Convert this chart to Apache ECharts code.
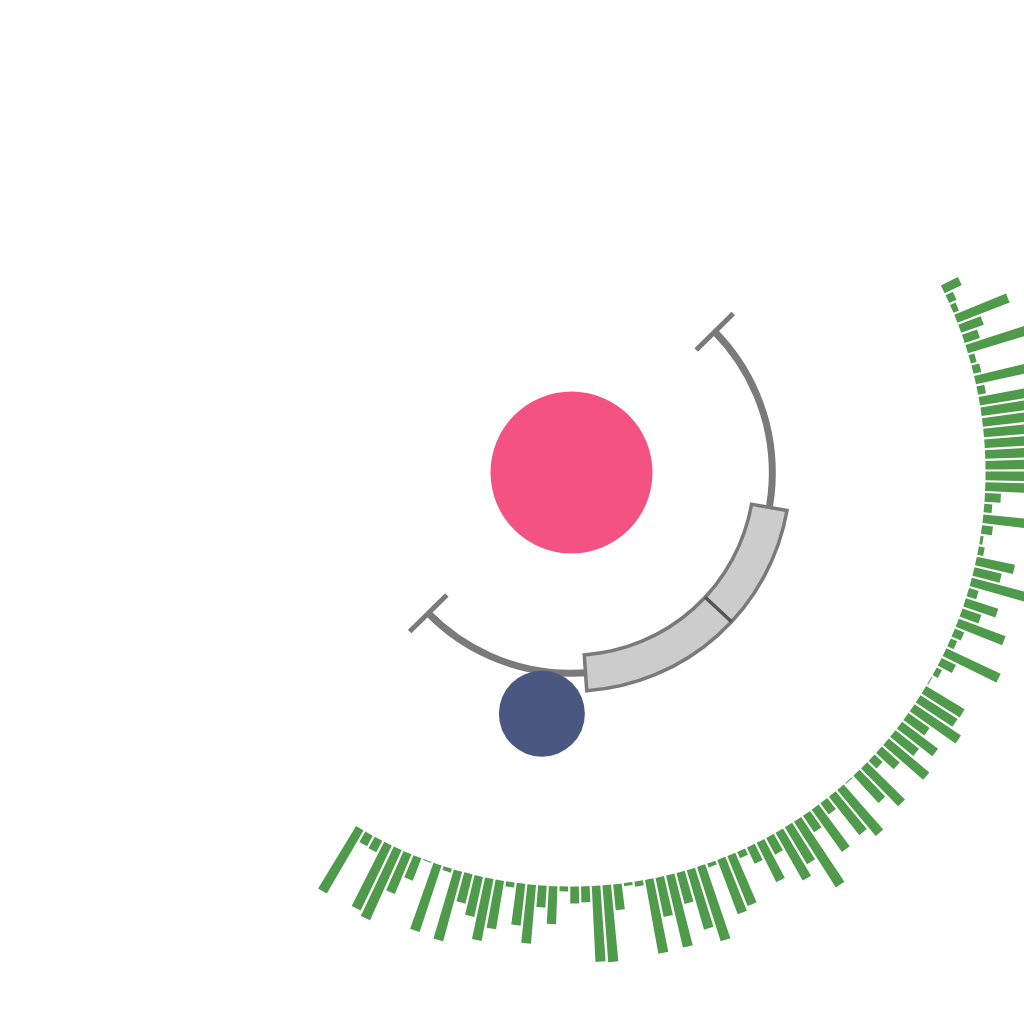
<!DOCTYPE html>
<html>
<head>
    <meta charset="utf-8">
    <title>polar box ring</title>
    <style>
        * { margin: 0; padding: 0; }
        html, body { width: 100%; height: 100%; background: #fff; }
        #main { width: 1024px; height: 1024px; }
    </style>
</head>
<body>
<div id="main"></div>
<script src="https://cdn.jsdelivr.net/npm/echarts@6/dist/echarts.min.js"></script>
<script>
    // outer ring, one bar per slot, clockwise from the top right
    const ringValues = [
        19, 8, 6, 56, 24, 16, 66, 6, 8, 62,
        8, 58, 44, 64, 70, 62, 72, 66, 60, 68,
        16, 8, 52, 11, 3, 6, 39, 28, 62, 10,
        34, 20, 50, 10, 7, 60, 16, 6, 1, 45,
        44, 56, 26, 45, 30, 53, 24, 11, 53, 37,
        1, 60, 49, 14, 52, 20, 78, 43, 55, 19,
        44, 18, 7, 54, 58, 4, 78, 62, 32, 74,
        40, 75, 5, 3, 26, 77, 76, 16, 17, 5,
        38, 22, 59, 42, 5, 49, 63, 41, 30, 72,
        4, 70, 1, 24, 43, 77, 72, 13, 12, 73
    ];
    const ringNames = ringValues.map((_, i) => 'p' + (i + 1));

    // inner box: category index, then min, q1, median, q3, max (degrees)
    const boxNames = ['', '', 'A'];
    const boxStats = [[2, 45.5, 100, 133, 176, 225.5]];

    // dots as [radius, angle]
    const centerDot = [[0, 0]];
    const outerDot = [[243, 187]];

    const CENTER = [571.5, 472.5];
    const chart = echarts.init(document.getElementById('main'));

    function renderBox(params, api) {
        const cs = params.coordSys;
        const cx = cs.cx, cy = cs.cy;
        const cat = api.value(0);
        const pts = [1, 2, 3, 4, 5].map(d => api.coord([cat, api.value(d)]));
        const ang = pts.map(p => Math.atan2(p[1] - cy, p[0] - cx));
        for (let i = 1; i < ang.length; i++) {
            while (ang[i] < ang[i - 1]) ang[i] += Math.PI * 2;
        }
        const r = Math.hypot(pts[0][0] - cx, pts[0][1] - cy);
        const half = 18, cap = 26;
        const radial = (a, r0, r1) => ({
            x1: cx + r0 * Math.cos(a), y1: cy + r0 * Math.sin(a),
            x2: cx + r1 * Math.cos(a), y2: cy + r1 * Math.sin(a)
        });
        return {
            type: 'group',
            children: [
                {
                    type: 'arc',
                    shape: { cx, cy, r, startAngle: ang[0], endAngle: ang[4], clockwise: true },
                    style: { fill: 'none', stroke: '#7a7a7a', lineWidth: 7 }
                },
                {
                    type: 'line',
                    shape: radial(ang[0], r - cap, r + cap),
                    style: { stroke: '#7a7a7a', lineWidth: 5 }
                },
                {
                    type: 'line',
                    shape: radial(ang[4], r - cap, r + cap),
                    style: { stroke: '#7a7a7a', lineWidth: 5 }
                },
                {
                    type: 'sector',
                    shape: { cx, cy, r0: r - half, r: r + half, startAngle: ang[1], endAngle: ang[3], clockwise: true },
                    style: { fill: '#cccccc', stroke: '#7a7a7a', lineWidth: 3.5 }
                },
                {
                    type: 'line',
                    shape: radial(ang[2], r - half, r + half),
                    style: { stroke: '#555555', lineWidth: 3.5 }
                }
            ]
        };
    }

    chart.setOption({
        animation: false,
        backgroundColor: '#fff',
        polar: [
            { center: CENTER, radius: [0, 241] },
            { center: CENTER, radius: [0, 250] },
            { center: CENTER, radius: [414, 514] }
        ],
        angleAxis: [
            { polarIndex: 0, type: 'value', min: 0, max: 360, startAngle: 90, show: false },
            { polarIndex: 1, type: 'value', min: 0, max: 360, startAngle: 90, show: false },
            { polarIndex: 2, type: 'category', data: ringNames, startAngle: 27, endAngle: -121.5, show: false }
        ],
        radiusAxis: [
            { polarIndex: 0, type: 'category', data: boxNames, show: false },
            { polarIndex: 1, type: 'value', min: 0, max: 250, show: false },
            { polarIndex: 2, type: 'value', min: 0, max: 100, show: false }
        ],
        series: [
            {
                type: 'bar',
                coordinateSystem: 'polar',
                polarIndex: 2,
                data: ringValues,
                itemStyle: { color: '#4f9a4b' }
            },
            {
                type: 'custom',
                coordinateSystem: 'polar',
                polarIndex: 0,
                data: boxStats,
                encode: { radius: 0, angle: [1, 2, 3, 4, 5] },
                renderItem: renderBox
            },
            {
                type: 'scatter',
                coordinateSystem: 'polar',
                polarIndex: 1,
                data: centerDot,
                symbolSize: 162,
                itemStyle: { color: '#f45283', opacity: 1 }
            },
            {
                type: 'scatter',
                coordinateSystem: 'polar',
                polarIndex: 1,
                data: outerDot,
                symbolSize: 86,
                itemStyle: { color: '#4a5781', opacity: 1 }
            }
        ]
    });
</script>
</body>
</html>
